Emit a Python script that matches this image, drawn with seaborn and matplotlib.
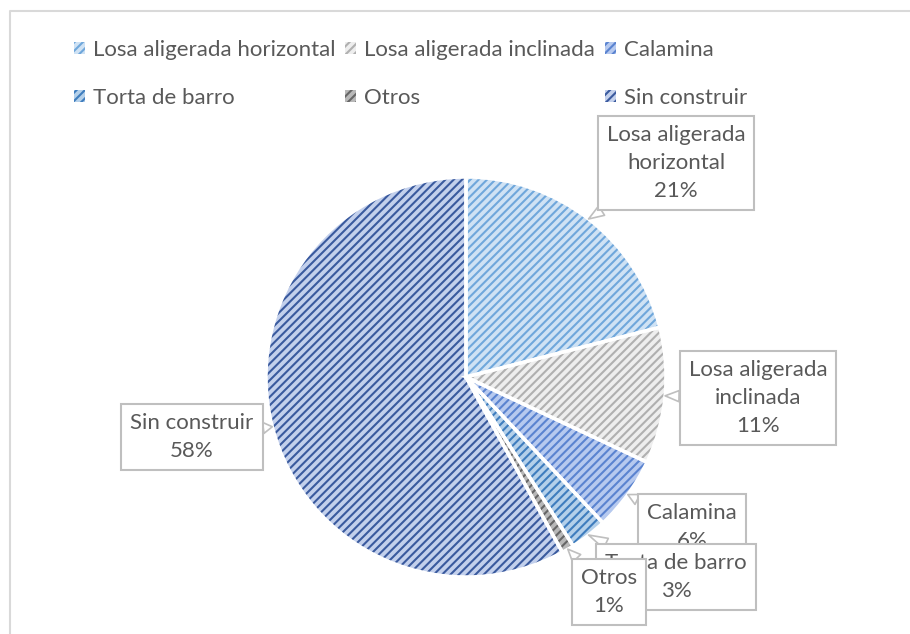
import numpy as np
import matplotlib
matplotlib.use("Agg")
import matplotlib.pyplot as plt
from matplotlib.patches import Patch
from matplotlib.lines import Line2D
import seaborn as sns

# Roof type shares (percent)
categories = ["Losa aligerada horizontal", "Losa aligerada inclinada", "Calamina",
              "Torta de barro", "Otros", "Sin construir"]
shares = [21, 11, 6, 3, 1, 58]
label_lines = ["Losa aligerada\nhorizontal", "Losa aligerada\ninclinada", "Calamina",
               "Torta de barro", "Otros", "Sin construir"]

# fill colour and stripe colour per category
fill_colors = ["#CFE2F4", "#EEEEEE", "#B6C9EF", "#B4D0EA", "#B8B8B8", "#C3D0EC"]
stripe_colors = ["#6FA7DB", "#B0B0B0", "#5A83D0", "#3F7DBE", "#666666", "#3A5A9E"]

sns.set_theme(style="white")
plt.rcParams["font.family"] = ["Lato", "DejaVu Sans"]
plt.rcParams["hatch.linewidth"] = 1.5

W, H = 910, 634
fig = plt.figure(figsize=(W / 100, H / 100), dpi=100)
ax = fig.add_axes([0, 0, 1, 1])

def px(x, y):
    return (x, H - y)

cx, cy = px(466, 377)
R = 200

wedges, _ = ax.pie(shares, colors=fill_colors, startangle=90, counterclock=False,
                   center=(cx, cy), radius=R, wedgeprops=dict(linewidth=0))
for w, sc in zip(wedges, stripe_colors):
    w.set_hatch("////")
    w.set_edgecolor(sc)
    w.set_linewidth(0)
# white separators between slices
ax.pie(shares, colors=["none"] * len(shares), startangle=90, counterclock=False,
       center=(cx, cy), radius=R, wedgeprops=dict(linewidth=2.5, edgecolor="white"))

ax.set_xlim(0, W)
ax.set_ylim(0, H)
ax.set_aspect("auto")
ax.axis("off")

text_color = "#595959"
box_edge = "#BFBFBF"
label_pos = [px(676, 163), px(758, 398), px(692, 527), px(676, 577), px(609, 592), px(192, 437)]

for w, lab, v, pos in zip(wedges, label_lines, shares, label_pos):
    mid = np.deg2rad((w.theta1 + w.theta2) / 2)
    tip = (w.center[0] + w.r * np.cos(mid), w.center[1] + w.r * np.sin(mid))
    ax.annotate(f"{lab}\n{v}%", xy=tip, xytext=pos, ha="center", va="center",
                fontsize=16, color=text_color, linespacing=1.5,
                bbox=dict(boxstyle="square,pad=0.4", fc="white", ec=box_edge, lw=1.5),
                arrowprops=dict(arrowstyle="wedge,tail_width=0.5,shrink_factor=0.5",
                                fc="white", ec=box_edge, lw=1.2, shrinkA=0, shrinkB=0))

# legend: three columns, row-wise order
handles = [Patch(facecolor=fc, edgecolor=sc, hatch="////", linewidth=0)
           for fc, sc in zip(fill_colors, stripe_colors)]
order = [0, 3, 1, 4, 2, 5]
leg = fig.legend([handles[i] for i in order], [categories[i] for i in order],
                 ncol=3, loc="upper left", bbox_to_anchor=(74 / W, 1 - 40 / H),
                 frameon=False, fontsize=16, handlelength=0.5, handleheight=0.5,
                 handletextpad=0.35, columnspacing=0.45, labelspacing=1.25,
                 borderaxespad=0, borderpad=0)
for t in leg.get_texts():
    t.set_color(text_color)

# chart area border
fig.add_artist(Line2D([10 / W, 10 / W, 1.0], [0.0, 1 - 11 / H, 1 - 11 / H],
                      color="#D9D9D9", lw=1.5, transform=fig.transFigure))

fig.savefig("out.png", dpi=100)
